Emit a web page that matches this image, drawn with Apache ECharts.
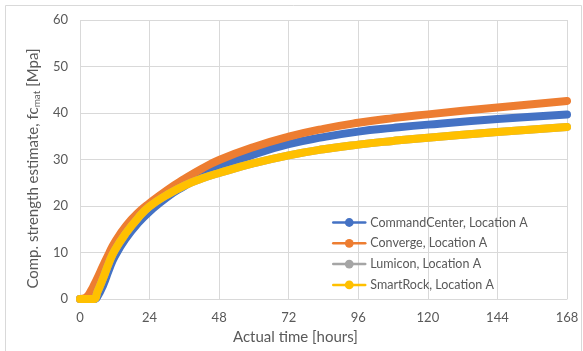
<!DOCTYPE html>
<html>
<head>
<meta charset="utf-8">
<script src="https://cdn.jsdelivr.net/npm/echarts@6/dist/echarts.min.js"></script>
<style>
html,body{margin:0;padding:0;background:#fff;}
#chart{width:583px;height:351px;}
</style>
</head>
<body>
<div id="chart"></div>
<script>
// Data
const hours = [0, 2, 4, 5, 6, 8, 10, 12, 16, 20, 24, 30, 36, 42, 48, 60, 72, 84, 96, 108, 120, 144, 168];
const commandCenter = [0, 0, 0, 0, 0.5, 3.0, 6.3, 9.2, 13.2, 16.3, 18.8, 21.9, 24.3, 26.5, 28.3, 31.1, 33.3, 34.8, 36.0, 36.8, 37.5, 38.7, 39.7];
const converge      = [0, 0.3, 2.0, 3.2, 4.5, 7.2, 9.8, 12.2, 15.8, 18.5, 20.6, 23.4, 25.8, 28.0, 29.9, 32.7, 34.9, 36.6, 37.9, 38.9, 39.7, 41.2, 42.6];
const lumicon       = [0, 0, 0, 0, 1.5, 4.5, 7.8, 10.5, 14.3, 17.4, 19.9, 22.4, 24.4, 25.9, 27.1, 29.2, 30.9, 32.2, 33.2, 34.0, 34.7, 35.9, 37.0];
const smartRock     = [0, 0, 0, 0, 1.5, 4.5, 7.8, 10.5, 14.3, 17.4, 19.9, 22.4, 24.4, 25.9, 27.1, 29.2, 30.9, 32.2, 33.2, 34.0, 34.7, 35.9, 37.0];
const seriesNames = ['CommandCenter, Location A', 'Converge, Location A', 'Lumicon, Location A', 'SmartRock, Location A'];
const seriesValues = [commandCenter, converge, lumicon, smartRock];
const colors = ['#4472C4', '#ED7D31', '#A5A5A5', '#FFC000'];
const xTicks = [0, 24, 48, 72, 96, 120, 144, 168];
const yTicks = [0, 10, 20, 30, 40, 50, 60];

const FONT = 'Lato';
const TXT = '#595959';

const chart = echarts.init(document.getElementById('chart'), null, {renderer: 'canvas'});
const option = {
  backgroundColor: '#fff',
  animation: false,
  textStyle: {fontFamily: FONT},
  graphic: [
    {type: 'rect', left: 3, top: 3, shape: {width: 576, height: 346}, style: {fill: 'none', stroke: '#d9d9d9', lineWidth: 1}, z: 0},
    {type: 'text', left: 233, top: 330, style: {text: 'Actual time [hours]', fill: TXT, font: '15px ' + FONT}}
  ],
  grid: {left: 80, right: 16, top: 20, bottom: 52},
  legend: {
    orient: 'vertical',
    left: 327, top: 211,
    itemWidth: 32, itemHeight: 11, itemGap: 7.8,
    lineStyle: {width: 2.5},
    textStyle: {color: TXT, fontSize: 12.5, fontFamily: FONT},
    data: seriesNames
  },
  xAxis: {
    type: 'value', min: 0, max: 168, interval: 24,
    axisLine: {show: true, lineStyle: {color: '#d9d9d9'}},
    axisTick: {show: false},
    splitLine: {show: true, lineStyle: {color: '#d9d9d9'}},
    axisLabel: {color: TXT, fontSize: 13, margin: 12,
      formatter: v => xTicks.includes(v) ? String(v) : ''}
  },
  yAxis: {
    type: 'value', min: 0, max: 60, interval: 10,
    name: 'Comp. strength estimate, fc{sub|mat} [Mpa]',
    nameLocation: 'middle', nameGap: 33,
    nameTextStyle: {color: TXT, fontSize: 15, fontFamily: FONT, padding: [0, 18, 0, 0],
      rich: {sub: {fontSize: 10, color: TXT, fontFamily: FONT, verticalAlign: 'bottom', padding: [7, 0, 0, 0]}}},
    axisLine: {show: false},
    axisTick: {show: false},
    splitLine: {show: true, lineStyle: {color: '#d9d9d9'}},
    axisLabel: {color: TXT, fontSize: 13, margin: 12,
      formatter: v => yTicks.includes(v) ? String(v) : ''}
  },
  series: seriesNames.map((name, i) => ({
    name: name,
    type: 'line',
    data: hours.map((h, j) => [h, seriesValues[i][j]]),
    color: colors[i],
    symbol: 'circle',
    showSymbol: false,
    smooth: 0.5,
    clip: false,
    lineStyle: {width: 8, color: colors[i], cap: 'round', join: 'round'},
    itemStyle: {color: colors[i]},
    z: 2 + i
  }))
};
chart.setOption(option);
</script>
</body>
</html>
